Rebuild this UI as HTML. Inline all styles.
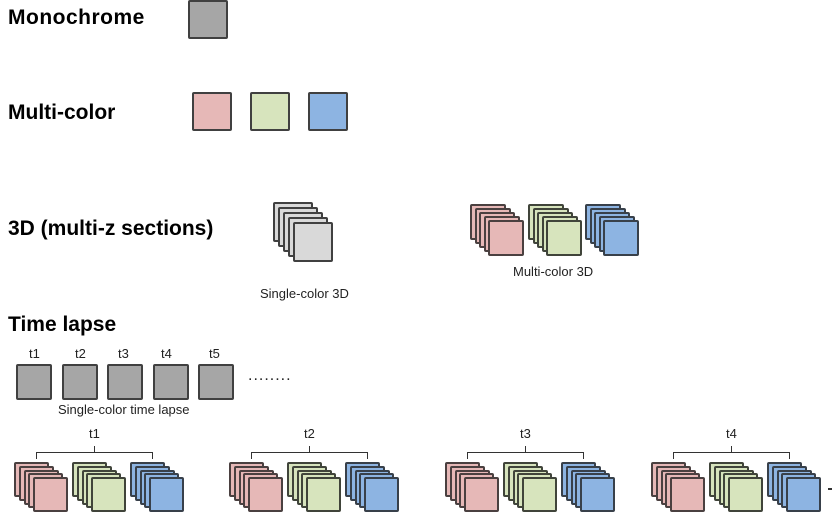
<!DOCTYPE html>
<html><head><style>
body{margin:0;width:832px;height:522px;background:#fff;position:relative;overflow:hidden;font-family:"Liberation Sans",sans-serif}
.t{position:absolute;font-weight:bold;font-size:21px;color:#000}
.s{position:absolute;font-size:13px;color:#222}
.sq{position:absolute;box-sizing:border-box;border:2.5px solid #404040;border-radius:2px}
</style></head><body>
<div class="t" style="left:8px;top:6px;letter-spacing:0.5px">Monochrome</div>
<div class="t" style="left:8px;top:101px">Multi-color</div>
<div class="t" style="left:8px;top:217px">3D (multi-z sections)</div>
<div class="t" style="left:8px;top:313px">Time lapse</div>
<div class="sq" style="left:188px;top:0;width:40px;height:39px;background:#a6a6a6"></div>
<div class="sq" style="left:192px;top:92px;width:40px;height:39px;background:#e6b8b7"></div>
<div class="sq" style="left:250px;top:92px;width:40px;height:39px;background:#d7e4bd"></div>
<div class="sq" style="left:308px;top:92px;width:40px;height:39px;background:#8db4e2"></div>
<div class="s" style="left:260px;top:286px">Single-color 3D</div>
<div class="s" style="left:513px;top:264px">Multi-color 3D</div>
<div class="s" style="left:29px;top:346px">t1</div>
<div class="s" style="left:75px;top:346px">t2</div>
<div class="s" style="left:118px;top:346px">t3</div>
<div class="s" style="left:161px;top:346px">t4</div>
<div class="s" style="left:209px;top:346px">t5</div>
<div class="s" style="left:248px;top:367px;font-size:16px;letter-spacing:1px">........</div>
<div class="s" style="left:58px;top:402px">Single-color time lapse</div>
<div id="c"></div>
<script>
var c=document.getElementById('c');
function sq(x,y,w,bg,bd){var d=document.createElement('div');d.className='sq';d.style.cssText='left:'+x+'px;top:'+y+'px;width:'+w+'px;height:'+w+'px;background:'+bg+';border-color:'+(bd||'#404040');c.appendChild(d);}
function stack(x,y,w,dx,dy,bg,bd){for(var i=0;i<5;i++)sq(x+i*dx,y+i*dy,w,bg,bd);}
[16,62,107,153,198].forEach(function(x){sq(x,364,36,'#a6a6a6');});
stack(273,202,40,5,5,'#d9d9d9');
var P='#e6b8b7',G='#d7e4bd',B='#8db4e2';
stack(470,204,36,4.5,4,P,'#4a4040');stack(528,204,36,4.5,4,G,'#40443a');stack(585,204,36,4.5,4,B,'#38404a');
[[14,'t1'],[229,'t2'],[445,'t3'],[651,'t4']].forEach(function(g){
 var x=g[0];
 stack(x,462,35,4.75,3.8,P,'#4a4040');stack(x+58,462,35,4.75,3.8,G,'#40443a');stack(x+116,462,35,4.75,3.8,B,'#38404a');
 var b=document.createElement('div');b.style.cssText='position:absolute;left:'+(x+22)+'px;top:452px;width:117px;height:7px;border:1.3px solid #333;border-bottom:none;box-sizing:border-box';c.appendChild(b);
 var m=document.createElement('div');m.style.cssText='position:absolute;left:'+(x+80)+'px;top:446px;width:1.3px;height:7px;background:#333';c.appendChild(m);
 var l=document.createElement('div');l.className='s';l.style.cssText='left:'+(x+75)+'px;top:426px';l.textContent=g[1];c.appendChild(l);
});
</script>
<div style="position:absolute;left:828px;top:488px;width:4px;height:1.5px;background:#333"></div>
</body></html>
